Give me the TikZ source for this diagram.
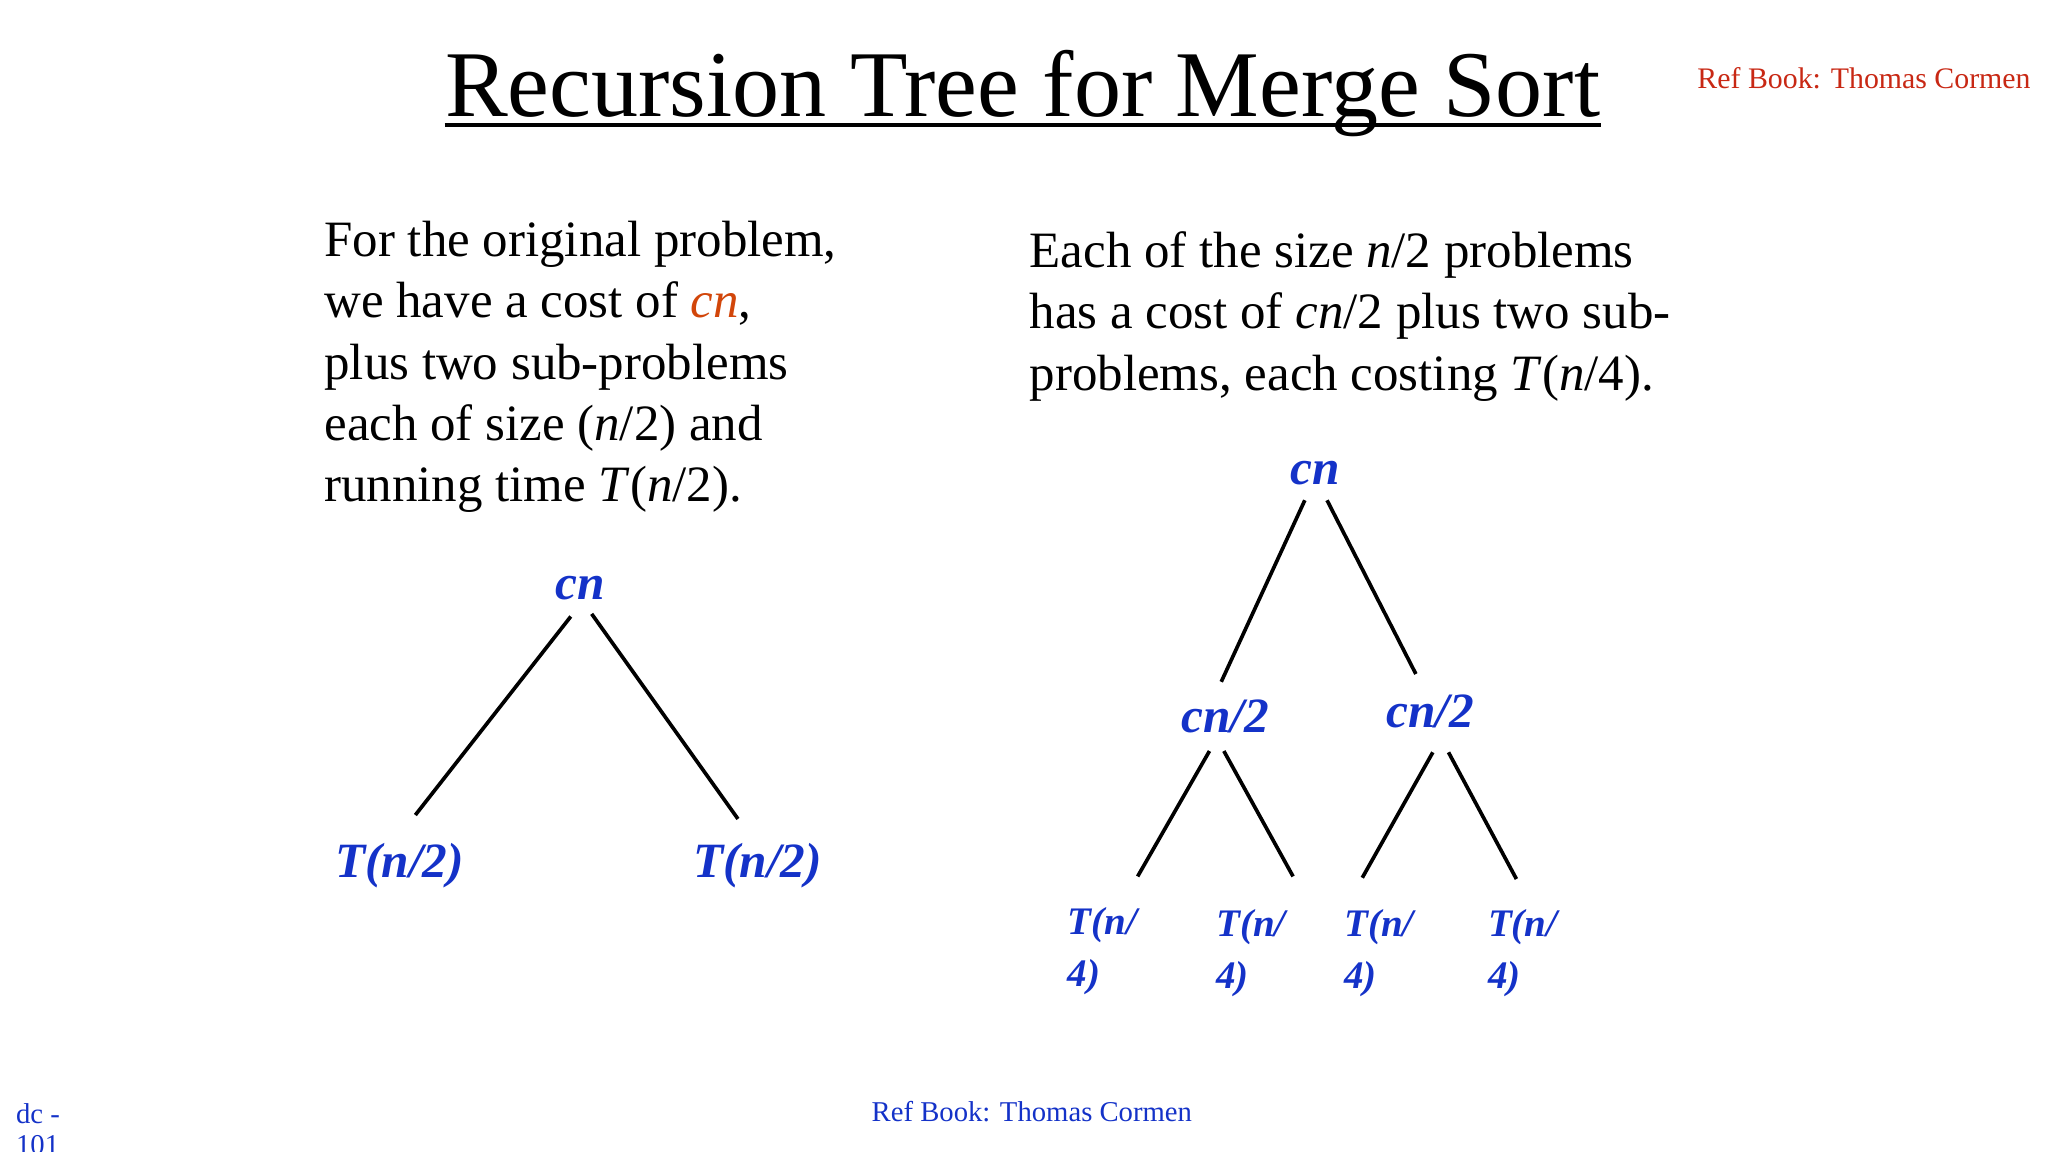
\documentclass[tikz,border=0pt]{standalone}
\usepackage{fontspec}
\setmainfont{Liberation Serif}
\definecolor{tblue}{RGB}{20,50,200}
\definecolor{tred}{RGB}{200,40,20}
\definecolor{corange}{RGB}{210,70,10}
\begin{document}
\begin{tikzpicture}[x=0.02cm,y=-0.02cm,
  body/.style={anchor=base west,inner sep=0,font=\fontsize{22.2}{26.7}\selectfont,align=left},
  tn/.style={anchor=base,inner sep=0,text=tblue,font=\fontsize{21.5}{24}\selectfont\bfseries\itshape},
  leaf/.style={anchor=base west,inner sep=0,text=tblue,align=left,font=\fontsize{17}{22.7}\selectfont\bfseries\itshape},
  edge/.style={line width=1.6pt}]
\useasboundingbox (0,0) rectangle (1568,882);
\node[anchor=base,inner sep=0,font=\fontsize{41}{50}\selectfont] (title) at (783,89) {Recursion Tree for Merge Sort};
\draw[line width=0.055cm] ([yshift=-0.13cm]title.base west) -- ([yshift=-0.13cm]title.base east);
\node[anchor=base east,inner sep=0,text=tred,font=\fontsize{13}{16}\selectfont] (ref) at (1555,68) {Ref Book: Thomas Cormen};
\node[body,anchor=north west] (p1) at (248,169) {For the original problem,\\we have a cost of \textcolor{corange}{\itshape cn},\\plus two sub-problems\\each of size (\textit{n}/2) and\\running time \textit{T}(\textit{n}/2).};
\node[body,anchor=north west] (p2) at (788,177) {Each of the size \textit{n}/2 problems\\has a cost of \textit{cn}/2 plus two sub-\\problems, each costing \textit{T}(\textit{n}/4).};
% left tree
\node[tn] (a) at (444,459) {cn};
\node[tn] (al) at (306,672) {T(n/2)};
\node[tn] (ar) at (580,672) {T(n/2)};
\coordinate (a1) at (437,472); \coordinate (a2) at (453,470);
\coordinate (al1) at (318,624); \coordinate (ar1) at (565,627);
\draw[edge] (a1) -- (al1); \draw[edge] (a2) -- (ar1);
% right tree
\node[tn] (b) at (1007,371) {cn};
\node[tn] (bl) at (938,561) {cn/2};
\node[tn] (br) at (1095,557) {cn/2};
\coordinate (b1) at (999,383); \coordinate (b2) at (1016,383);
\coordinate (bl0) at (935,522); \coordinate (br0) at (1084,516);
\draw[edge] (b1) -- (bl0); \draw[edge] (b2) -- (br0);
\coordinate (c1) at (926,575); \coordinate (c2) at (937,575);
\coordinate (c3) at (1097,576); \coordinate (c4) at (1109,576);
\coordinate (d1) at (871,671); \coordinate (d2) at (990,671);
\coordinate (d3) at (1043,672); \coordinate (d4) at (1161,673);
\draw[edge] (c1) -- (d1); \draw[edge] (c2) -- (d2);
\draw[edge] (c3) -- (d3); \draw[edge] (c4) -- (d4);
\node[leaf] (l1) at (817,755) {T(n/\\4)};
\node[leaf] (l2) at (931,757) {T(n/\\4)};
\node[leaf] (l3) at (1029,757) {T(n/\\4)};
\node[leaf] (l4) at (1139,757) {T(n/\\4)};
% footer
\node[anchor=base,inner sep=0,text=tblue,font=\fontsize{12.5}{15}\selectfont] (foot) at (790,859) {Ref Book: Thomas Cormen};
\node[anchor=base west,inner sep=0,text=tblue,align=left,font=\fontsize{12.5}{13.5}\selectfont] (dc) at (12,884) {dc -\\101};
\end{tikzpicture}
\end{document}
